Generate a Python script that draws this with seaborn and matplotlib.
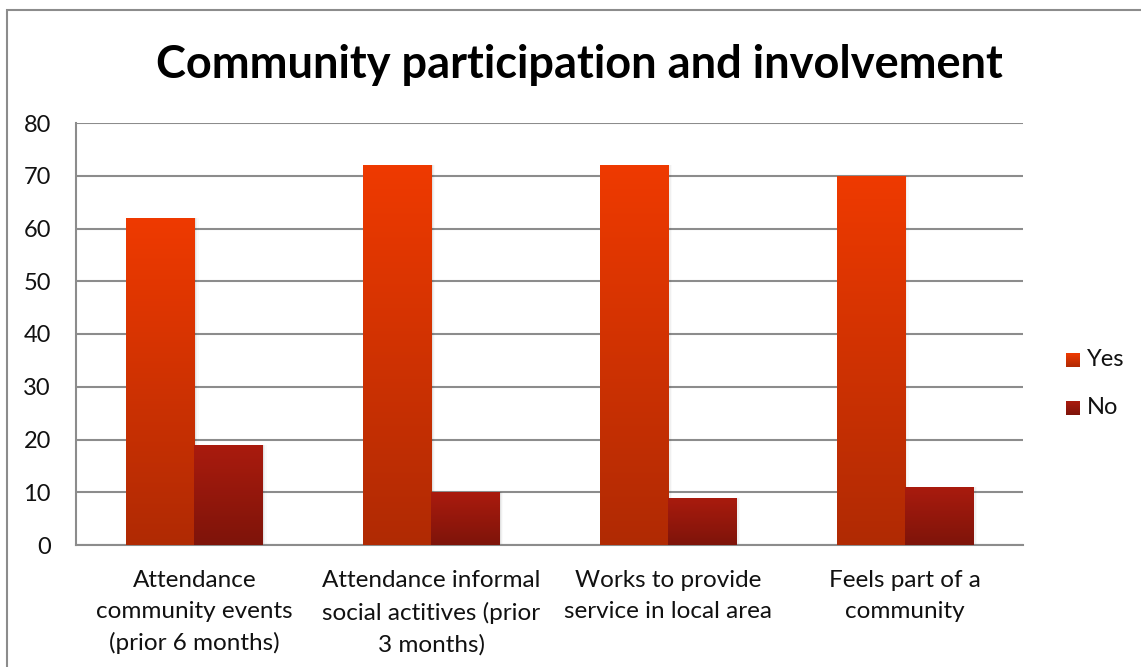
import numpy as np
import pandas as pd
import matplotlib
matplotlib.use("Agg")
import matplotlib.pyplot as plt
from matplotlib.colors import LinearSegmentedColormap
from matplotlib.patches import Rectangle
import seaborn as sns

categories = [
    "Attendance\ncommunity events\n(prior 6 months)",
    "Attendance informal\nsocial actitives (prior\n3 months)",
    "Works to provide\nservice in local area",
    "Feels part of a\ncommunity",
]
yes_values = [62, 72, 72, 70]
no_values = [19, 10, 9, 11]
series_names = ["Yes", "No"]
y_ticks = [0, 10, 20, 30, 40, 50, 60, 70, 80]

df = pd.DataFrame({
    "category": categories * 2,
    "value": yes_values + no_values,
    "series": [series_names[0]] * 4 + [series_names[1]] * 4,
})

sns.set_theme(style="white")
plt.rcParams["font.family"] = ["Lato", "DejaVu Sans"]

# gradient (top colour, bottom colour) for each series
grad = {
    "Yes": ("#EF3A00", "#B02A04"),
    "No": ("#AA1B0E", "#7E140A"),
}
solid = {"Yes": "#DA3400", "No": "#961A0C"}

fig = plt.figure(figsize=(11.41, 6.67), dpi=100)
ax = fig.add_axes([76 / 1141, 1 - 545 / 667, (1023 - 76) / 1141, (545 - 123) / 667])

sns.barplot(data=df, x="category", y="value", hue="series", order=categories,
            hue_order=series_names, palette=solid, width=0.575, gap=0,
            saturation=1, ax=ax, legend=False, zorder=3)

# Replace flat fills with vertical gradients clipped to each bar
for container, name in zip(ax.containers, series_names):
    cmap = LinearSegmentedColormap.from_list(name, [grad[name][1], grad[name][0]])
    for bar in container:
        x0, y0 = bar.get_x(), bar.get_y()
        w, h = bar.get_width(), bar.get_height()
        # soft shadow to the right of the bar
        for i, a in enumerate([0.06, 0.04, 0.02]):
            sh = Rectangle((x0 + w, y0), 0.006 * (i + 1), h, facecolor="black",
                           alpha=a, edgecolor="none", zorder=2.5)
            ax.add_patch(sh)
        img = ax.imshow(np.linspace(0, 1, 256).reshape(-1, 1), cmap=cmap,
                        extent=[x0, x0 + w, y0, y0 + h], origin="lower",
                        aspect="auto", zorder=3.1)
        img.set_clip_path(bar)
        bar.set_facecolor("none")
        bar.set_edgecolor("none")

ax.set_xlim(-0.5, 3.5)
ax.set_ylim(0, 80)
ax.set_yticks(y_ticks)
ax.set_yticklabels([str(t) for t in y_ticks], fontsize=17)
ax.tick_params(axis="y", length=0, pad=18)
ax.tick_params(axis="x", length=0, pad=18)
ax.set_xticks(range(len(categories)))
ax.set_xticklabels(categories, fontsize=17.5, linespacing=1.58, color="#111111")
for lbl in ax.get_yticklabels():
    lbl.set_color("#111111")
ax.set_xlabel("")
ax.set_ylabel("")
ax.yaxis.grid(True, color="#8c8c8c", linewidth=1.5, zorder=0)
ax.set_axisbelow(True)
for s in ["top", "right"]:
    ax.spines[s].set_visible(False)
for s in ["left", "bottom"]:
    ax.spines[s].set_color("#8c8c8c")
    ax.spines[s].set_linewidth(1.5)

# Title
fig.text(579 / 1141, 1 - 65 / 667, "Community participation and involvement",
         ha="center", va="center", fontsize=32.5, fontweight="bold", color="black")

# Legend with gradient swatches
for i, name in enumerate(series_names):
    yc = 360 + i * 48
    cmap = LinearSegmentedColormap.from_list(name + "_lg", [grad[name][1], grad[name][0]])
    lax = fig.add_axes([1066 / 1141, 1 - (yc + 7) / 667, 14 / 1141, 14 / 667])
    lax.imshow(np.linspace(0, 1, 64).reshape(-1, 1), cmap=cmap, origin="lower",
               aspect="auto")
    lax.axis("off")
    fig.text(1087 / 1141, 1 - yc / 667, name, ha="left", va="center",
             fontsize=17, color="#111111")

# Chart frame
frame = Rectangle((7 / 1141, -0.1), 1.2, 1 - 10 / 667 + 0.1, transform=fig.transFigure,
                  facecolor="none", edgecolor="#8c8c8c", linewidth=1.5)
fig.patches.append(frame)

fig.savefig("out.png", dpi=100)
